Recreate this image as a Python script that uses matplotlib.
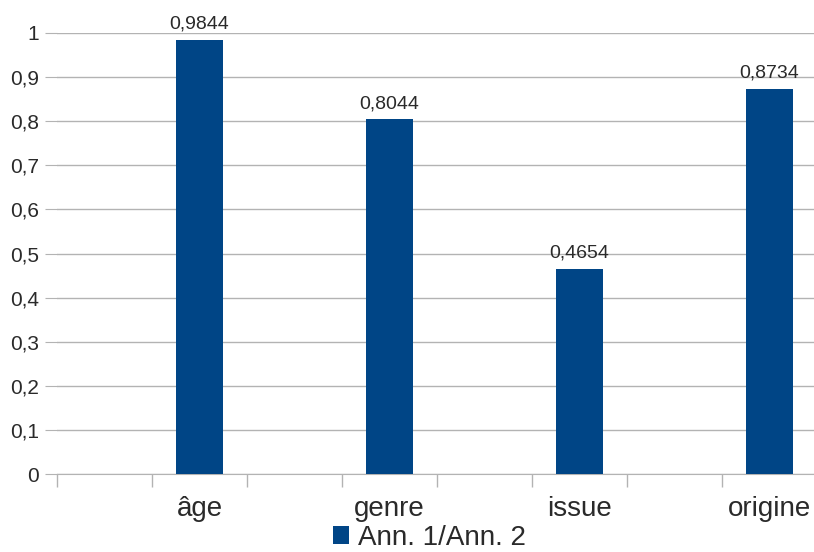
import matplotlib.pyplot as plt
from matplotlib.ticker import FixedLocator, FuncFormatter

plt.rcParams['font.family'] = ['Liberation Sans', 'DejaVu Sans']

categories = ["âge", "genre", "issue", "origine"]
values = [0.9844, 0.8044, 0.4654, 0.8734]
labels = ["0,9844", "0,8044", "0,4654", "0,8734"]
yticks = [0, 0.1, 0.2, 0.3, 0.4, 0.5, 0.6, 0.7, 0.8, 0.9, 1]
series_name = "Ann. 1/Ann. 2"

W, H = 814, 552
fig = plt.figure(figsize=(W / 100, H / 100), dpi=100)
ax = fig.add_axes([57 / W, (H - 474) / H, 760 / W, 441 / H])

pos = [1.5, 3.5, 5.5, 7.5]
bars = ax.bar(pos, values, width=0.49, color="#004586", label=series_name, zorder=3)

for b, txt in zip(bars, labels):
    ax.annotate(txt, (b.get_x() + b.get_width() / 2, b.get_height()),
                xytext=(0, 5), textcoords="offset points",
                ha="center", va="bottom", fontsize=14, color="#2a2a2a")

ax.set_xlim(0, 8)
ax.set_ylim(0, 1)


def fr_fmt(v, _):
    s = f"{v:.1f}".replace(".", ",")
    return s[:-2] if s.endswith(",0") else s


ax.yaxis.set_major_locator(FixedLocator(yticks))
ax.yaxis.set_major_formatter(FuncFormatter(fr_fmt))
ax.tick_params(axis="y", length=9, color="#b3b3b3", labelsize=15, labelcolor="#2a2a2a", pad=4)
ax.grid(axis="y", color="#b3b3b3", linewidth=1, zorder=0)

ax.xaxis.set_major_locator(FixedLocator(pos))
ax.set_xticklabels(categories)
ax.xaxis.set_minor_locator(FixedLocator(range(9)))
ax.tick_params(axis="x", which="major", length=0, labelsize=20, labelcolor="#2a2a2a", pad=16)
ax.tick_params(axis="x", which="minor", length=9, color="#b3b3b3", width=1)

for side in ("top", "right", "left"):
    ax.spines[side].set_visible(False)
ax.spines["bottom"].set_color("#b3b3b3")

fig.legend(handles=[bars], labels=[series_name], loc="center",
           bbox_to_anchor=(429 / W, (H - 538) / H), frameon=False,
           fontsize=20, handlelength=0.6, handleheight=0.6, handletextpad=0.3,
           labelcolor="#2a2a2a")

fig.savefig("out.png", dpi=100)
